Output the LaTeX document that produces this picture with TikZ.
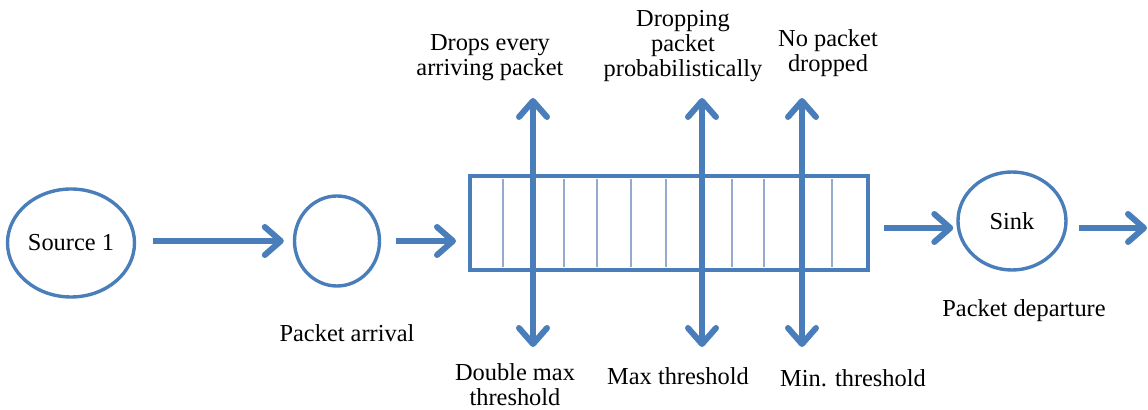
\documentclass[tikz,border=0pt]{standalone}
\usepackage{fontspec}
\setmainfont{Liberation Serif}
\usetikzlibrary{arrows.meta,shapes.geometric}
\definecolor{qblue}{RGB}{74,126,187}
\definecolor{qcell}{RGB}{150,170,205}

\begin{document}
\begin{tikzpicture}[x=0.5pt,y=-0.5pt,
	font=\fontsize{12.2}{12.6}\selectfont,
	flow/.style={draw=qblue,line width=3pt,-{Straight Barb[length=8pt,width=14pt,round]}},
	flowboth/.style={draw=qblue,line width=3pt,{Straight Barb[length=8pt,width=14pt,round]}-{Straight Barb[length=8pt,width=14pt,round]}},
	station/.style={shape=ellipse,draw=qblue,line width=1.7pt,inner sep=0pt},
	txt/.style={align=center,inner sep=0pt}]

	\useasboundingbox (0,0) rectangle (1148,410);

	% stations
	\node[station,minimum width=63.5pt,minimum height=54pt] (src) at (71,243) {Source 1};
	\node[station,minimum width=42.5pt,minimum height=45pt] (arr) at (337,241) {};
	\node[draw=qblue,line width=2pt,minimum width=199pt,minimum height=47pt,inner sep=0pt] (queue) at (669,223) {};
	\node[station,minimum width=54pt,minimum height=49pt] (sink) at (1012,221) {Sink};

	% buffer cells
	\foreach \x in {503,564,597,631,666,732,764,832}
		\draw[qcell,line width=0.6pt] (\x,179) -- (\x,267);

	% threshold ends
	\coordinate (dmaxtop) at (533,98);
	\coordinate (dmaxbot) at (533,347);
	\coordinate (maxtop) at (702,98);
	\coordinate (maxbot) at (702,347);
	\coordinate (mintop) at (802,98);
	\coordinate (minbot) at (802,347);
	\coordinate (exit) at (1147,228);

	\draw[flow,shorten <=8.5pt,shorten >=4.5pt] (src.east |- arr.west) -- (arr.west);
	\draw[flow,shorten <=7.5pt,shorten >=6pt] (arr.east) -- (arr.east -| queue.west);
	\draw[flow,shorten <=7pt,shorten >=1.5pt] ([yshift=-2.5pt]queue.east) -- ([yshift=-2.5pt]queue.east -| sink.west);
	\draw[flow,shorten <=5.5pt] ([yshift=-3.5pt]sink.east) -- (exit);

	\draw[flowboth] (dmaxbot) -- (dmaxtop);
	\draw[flowboth] (maxbot) -- (maxtop);
	\draw[flowboth] (minbot) -- (mintop);

	% labels
	\node[txt] (dropall) at (490,58) {Drops every\\arriving packet};
	\node[txt] (dropprob) at (683,46) {Dropping\\packet\\probabilistically};
	\node[txt] (dropnone) at (828,53) {No packet\\dropped};
	\node[txt] (dmaxlabel) at (515,385) {Double max\\threshold};
	\node[txt] (maxlabel) at (678,376) {Max threshold};
	\node[txt] (minlabel) at (853,378) {Min. threshold};
	\node[txt] (arrlabel) at (347,333) {Packet arrival};
	\node[txt] (deplabel) at (1024,311) {Packet departure};

\end{tikzpicture}
\end{document}
